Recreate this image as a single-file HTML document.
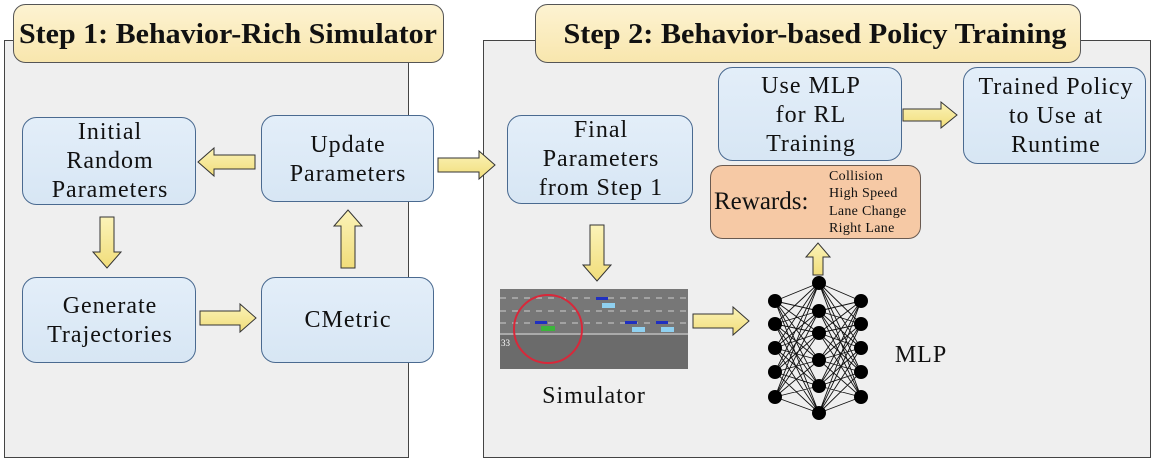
<!DOCTYPE html>
<html><head><meta charset="utf-8"><style>
html,body{margin:0;padding:0;background:#fff;}
svg{display:block;}
text{font-family:"Liberation Serif",serif;fill:#111;}
</style></head><body>
<svg width="1156" height="463" viewBox="0 0 1156 463" xmlns="http://www.w3.org/2000/svg">
<defs>
<linearGradient id="ttl" x1="0" y1="0" x2="0" y2="1"><stop offset="0" stop-color="#fdf3d2"/><stop offset="1" stop-color="#f8e6ad"/></linearGradient>
<linearGradient id="bx" x1="0" y1="0" x2="0" y2="1"><stop offset="0" stop-color="#e3eef9"/><stop offset="1" stop-color="#d7e6f4"/></linearGradient>
<linearGradient id="ar" x1="0" y1="0" x2="0" y2="1"><stop offset="0" stop-color="#fbf3b8"/><stop offset="1" stop-color="#f1dd7a"/></linearGradient>
</defs>
<rect x="4.5" y="40.5" width="404" height="417" fill="#efefef" stroke="#444" stroke-width="1"/>
<rect x="483.5" y="40.5" width="667" height="417" fill="#efefef" stroke="#444" stroke-width="1"/>
<rect x="13.5" y="4.5" width="430" height="58" rx="12" fill="url(#ttl)" stroke="#555"/>
<text x="228" y="43" font-size="28" font-weight="bold" text-anchor="middle" textLength="418" lengthAdjust="spacingAndGlyphs">Step 1: Behavior-Rich Simulator</text>
<rect x="535.5" y="4.5" width="545" height="58" rx="12" fill="url(#ttl)" stroke="#555"/>
<text x="815" y="43" font-size="28" font-weight="bold" text-anchor="middle" textLength="503" lengthAdjust="spacingAndGlyphs">Step 2: Behavior-based Policy Training</text>

<g fill="url(#bx)" stroke="#4a6a90" stroke-width="1">
<rect x="22.5" y="117.5" width="173" height="87" rx="14"/>
<rect x="261.5" y="115.5" width="172" height="86" rx="14"/>
<rect x="22.5" y="277.5" width="173" height="85" rx="14"/>
<rect x="261.5" y="277.5" width="172" height="85" rx="14"/>
<rect x="507.5" y="115.5" width="185" height="88" rx="14"/>
<rect x="718.5" y="67.5" width="183" height="93" rx="14"/>
<rect x="963.5" y="67.5" width="182" height="96" rx="14"/>
</g>
<rect x="710.5" y="165.5" width="210" height="73" rx="12" fill="#f6c9a5" stroke="#6a5a50"/>

<g font-size="24" letter-spacing="1" text-anchor="middle">
<text x="110" y="139">Initial</text><text x="110" y="168">Random</text><text x="110" y="197">Parameters</text>
<text x="348" y="152">Update</text><text x="348" y="181">Parameters</text>
<text x="110" y="313">Generate</text><text x="110" y="342">Trajectories</text>
<text x="348" y="327">CMetric</text>
<text x="601" y="137">Final</text><text x="601" y="166">Parameters</text><text x="601" y="195">from Step 1</text>
<text x="811" y="93">Use MLP</text><text x="811" y="122">for RL</text><text x="811" y="151">Training</text>
<text x="1056" y="94">Trained Policy</text><text x="1056" y="123">to Use at</text><text x="1056" y="152">Runtime</text>
<text x="594" y="403">Simulator</text>
<text x="921" y="362">MLP</text>
</g>
<text x="714" y="209" font-size="25">Rewards:</text>
<g font-size="14" letter-spacing="0.3">
<text x="829" y="180">Collision</text><text x="829" y="197">High Speed</text><text x="829" y="215">Lane Change</text><text x="829" y="232">Right Lane</text>
</g>

<g fill="url(#ar)" stroke="#333" stroke-width="1">
<polygon points="438,158 479,158 479,151 495,165 479,179 479,172 438,172"/>
<polygon points="255,155 214,155 214,148 198,162 214,176 214,169 255,169"/>
<polygon points="200,311 240,311 240,304 256,318 240,332 240,325 200,325"/>
<polygon points="693,314 733,314 733,307 749,321 733,335 733,328 693,328"/>
<polygon points="903,109 941,109 941,102 957,115 941,128 941,121 903,121"/>
<polygon points="100,217 114,217 114,252 121,252 107,268 93,252 100,252"/>
<polygon points="341,268 355,268 355,226 362,226 348,210 334,226 341,226"/>
<polygon points="590,225 604,225 604,265 611,265 597,281 583,265 590,265"/>
<polygon points="813,275 823,275 823,257 830,257 818,243 806,257 813,257"/>
</g>

<rect x="500" y="289" width="188" height="80" fill="#6b6b6b"/>
<rect x="500" y="289" width="188" height="44" fill="#777"/>
<line x1="500" y1="334" x2="688" y2="334" stroke="#aaa" stroke-width="2"/>
<g stroke="#ccc" stroke-width="1" stroke-dasharray="6 6">
<line x1="500" y1="298" x2="688" y2="298"/><line x1="500" y1="311" x2="688" y2="311"/><line x1="500" y1="323" x2="688" y2="323"/>
</g>
<g fill="#8fd0f0"><rect x="602" y="303" width="13" height="5"/><rect x="632" y="327" width="13" height="5"/><rect x="661" y="327" width="13" height="5"/></g>
<g fill="#2030c0"><rect x="596" y="297" width="12" height="3"/><rect x="625" y="321" width="12" height="3"/><rect x="656" y="321" width="12" height="3"/><rect x="535" y="321" width="12" height="3"/></g>
<rect x="541" y="326" width="14" height="5" fill="#3bb53b"/>
<text x="501" y="346" font-size="9" style="fill:#fff">33</text>
<circle cx="548" cy="329" r="34" fill="none" stroke="#d8283a" stroke-width="2"/>

<g stroke="#111" stroke-width="0.9">
<path d="M775 301L819 283M775 301L819 311M775 301L819 333M775 301L819 360M775 301L819 386M775 301L819 413
M775 324L819 283M775 324L819 311M775 324L819 333M775 324L819 360M775 324L819 386M775 324L819 413
M775 348L819 283M775 348L819 311M775 348L819 333M775 348L819 360M775 348L819 386M775 348L819 413
M775 372L819 283M775 372L819 311M775 372L819 333M775 372L819 360M775 372L819 386M775 372L819 413
M775 397L819 283M775 397L819 311M775 397L819 333M775 397L819 360M775 397L819 386M775 397L819 413
M861 301L819 283M861 301L819 311M861 301L819 333M861 301L819 360M861 301L819 386M861 301L819 413
M861 324L819 283M861 324L819 311M861 324L819 333M861 324L819 360M861 324L819 386M861 324L819 413
M861 348L819 283M861 348L819 311M861 348L819 333M861 348L819 360M861 348L819 386M861 348L819 413
M861 372L819 283M861 372L819 311M861 372L819 333M861 372L819 360M861 372L819 386M861 372L819 413
M861 397L819 283M861 397L819 311M861 397L819 333M861 397L819 360M861 397L819 386M861 397L819 413"/>
</g>
<g fill="#000">
<circle cx="775" cy="301" r="7"/><circle cx="775" cy="324" r="7"/><circle cx="775" cy="348" r="7"/><circle cx="775" cy="372" r="7"/><circle cx="775" cy="397" r="7"/>
<circle cx="861" cy="301" r="7"/><circle cx="861" cy="324" r="7"/><circle cx="861" cy="348" r="7"/><circle cx="861" cy="372" r="7"/><circle cx="861" cy="397" r="7"/>
<circle cx="819" cy="283" r="7"/><circle cx="819" cy="311" r="7"/><circle cx="819" cy="333" r="7"/><circle cx="819" cy="360" r="7"/><circle cx="819" cy="386" r="7"/><circle cx="819" cy="413" r="7"/>
</g>
</svg>
</body></html>
